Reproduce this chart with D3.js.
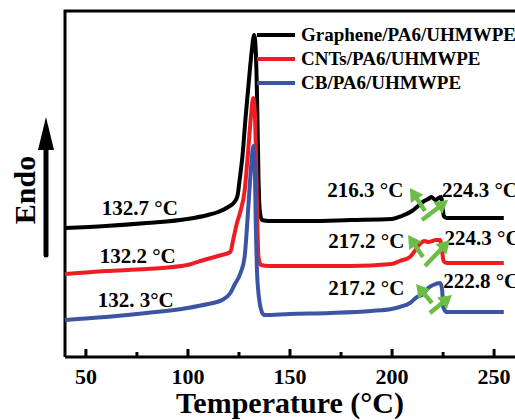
<!DOCTYPE html>
<html>
<head>
<meta charset="utf-8">
<script src="https://cdn.jsdelivr.net/npm/d3@7"></script>
<style>
  body { margin: 0; background: #fff; }
  svg text { font-family: "Liberation Serif", "Times New Roman", serif; font-weight: bold; fill: #000; }
</style>
</head>
<body>
<svg id="chart" width="515" height="420"></svg>
<script>

// Series: [temperature (°C), offset heat flow (a.u.)].
var graphene = [[40,129],[60,131],[80,134],[100,138],[110,142],[115,145],[120,150],[123,155],[124.5,161],
  [125.5,176],[127,202],[128.5,240],[130,274],[131.5,306],[132.7,322],[133.5,305],[134.2,250],[134.8,180],
  [135.5,145],[136.5,137],[140,136],[160,136],[180,137],[200,138],[205,141],[210,146],[213,151],[216,156],
  [218,158],[219.5,160],[221.5,157],[223,159],[224.3,160],[225,150],[225.6,141],[227,139],[240,139],[255,139]];

var cnts = [[40,83],[60,86],[80,88],[100,92],[108,97],[115,101],[121,105],[122.5,118],[124,132],[126,146],
  [128,166],[129.5,200],[131,238],[132.2,259],[133,245],[133.6,200],[134.2,140],[134.8,100],
  [136,92],[140,91],[160,91],[180,91],[200,93],[204,96],[209,100],[211,105],[213.5,112],[216,116],[218,115],
  [220,116],[221.5,117],[223.8,117],[224.8,105],[225.5,96],[227,94],[240,94],[255,94]];

var cb = [[40,37],[60,40],[80,44],[100,49],[110,53],[117,57],[121,64],[123,72],[126,84],[128,100],[129.5,140],
  [131,185],[132.3,211],[133,190],[133.5,130],[134,90],[135,60],[136,48],[137.5,42],[150,43],[170,44],
  [190,46],[200,48],[204,50],[209,54],[212.5,60],[215,62],[218,69],[220.4,72],[223.8,74],[224.8,67],
  [225.3,50],[227,45],[240,45],[255,45]];

var seriesNames = ['Graphene/PA6/UHMWPE', 'CNTs/PA6/UHMWPE', 'CB/PA6/UHMWPE'];
var seriesColors = ['#000000', '#ee1d23', '#3b54a5'];

// Tick values.
var majorTicks = [50, 100, 150, 200, 250];
var minorTicks = [75, 125, 175, 225];

// Peak labels: [temperature, value, text].
var leftLabels = [[58, 142, '132.7 °C'], [57, 94, '132.2 °C'], [56, 50, '132. 3°C']];
var rightLabels = [
  [168.5, 160, '216.3 °C'], [224.7, 160, '224.3 °C'],
  [169, 109, '217.2 °C'], [226, 112, '224.3 °C'],
  [169, 62, '217.2 °C'], [225.3, 69, '222.8 °C']
];

// Green arrows: [fromTemp, fromVal, toTemp, toVal].
var arrows = [
  [216.4, 146, 209.0, 169], [214.9, 137, 227.7, 157],
  [215.4, 100, 208.1, 122], [216.4, 91, 228.6, 117],
  [219.8, 54, 212.0, 73], [218.8, 44, 229.6, 62]
];

var svg = d3.select('#chart');

// Plot box.
var box = { left: 65, right: 514, top: 11, bottom: 357 };

var x = d3.scaleLinear().domain([40, 260]).range([box.left, box.right]);
var y = d3.scaleLinear().domain([0, box.bottom - box.top]).range([box.bottom, box.top]);

// Frame lines.
svg.append('path')
  .attr('d', 'M515,' + box.top + 'H' + box.left + 'V' + box.bottom)
  .attr('fill', 'none')
  .attr('stroke', '#000')
  .attr('stroke-width', 3);

// Bottom axis, ticks pointing inward.
var xAxis = svg.append('g')
  .attr('transform', 'translate(0,' + box.bottom + ')')
  .call(d3.axisBottom(x).tickValues(majorTicks).tickSize(-8).tickSizeOuter(0).tickPadding(11));

xAxis.select('.domain').attr('stroke-width', 3).attr('d', 'M' + box.left + ',0H515');
xAxis.selectAll('.tick line').attr('stroke-width', 3);
xAxis.selectAll('.tick text')
  .attr('font-size', 22)
  .attr('font-family', '"Liberation Serif", "Times New Roman", serif')
  .attr('font-weight', 'bold');

var xMinor = svg.append('g')
  .attr('transform', 'translate(0,' + box.bottom + ')')
  .call(d3.axisBottom(x).tickValues(minorTicks).tickSize(-5).tickFormat(''));

xMinor.select('.domain').remove();
xMinor.selectAll('.tick line').attr('stroke-width', 3);

// Curves.
var line = d3.line()
  .x(function(d) { return x(d[0]); })
  .y(function(d) { return y(d[1]); })
  .curve(d3.curveMonotoneX);

[graphene, cnts, cb].forEach(function(data, i) {
  svg.append('path')
    .datum(data)
    .attr('d', line)
    .attr('fill', 'none')
    .attr('stroke', seriesColors[i])
    .attr('stroke-width', 4)
    .attr('stroke-linejoin', 'round');
});

// Legend.
var legend = svg.append('g').attr('transform', 'translate(257,35)');
seriesNames.forEach(function(name, i) {
  var row = legend.append('g').attr('transform', 'translate(0,' + (i * 24) + ')');
  row.append('line')
    .attr('x1', 0).attr('x2', 38)
    .attr('stroke', seriesColors[i])
    .attr('stroke-width', 4);
  row.append('text')
    .attr('x', 44).attr('y', 6)
    .attr('font-size', 19)
    .text(name);
});

// Peak temperature labels.
svg.selectAll('.peak-label')
  .data(leftLabels.concat(rightLabels))
  .enter().append('text')
  .attr('class', 'peak-label')
  .attr('x', function(d) { return x(d[0]); })
  .attr('y', function(d) { return y(d[1]); })
  .attr('font-size', 21)
  .text(function(d) { return d[2]; });

// Green arrows.
function arrowPath(d) {
  var x0 = x(d[0]), y0 = y(d[1]), x1 = x(d[2]), y1 = y(d[3]);
  var dx = x1 - x0, dy = y1 - y0;
  var len = Math.sqrt(dx * dx + dy * dy);
  var ux = dx / len, uy = dy / len;
  var head = 13, half = 7.5, shaft = 2.2;
  var bx = x1 - ux * head, by = y1 - uy * head;
  var px = -uy, py = ux;
  return 'M' + (x0 + px * shaft) + ',' + (y0 + py * shaft) +
    'L' + (bx + px * shaft) + ',' + (by + py * shaft) +
    'L' + (bx + px * half) + ',' + (by + py * half) +
    'L' + x1 + ',' + y1 +
    'L' + (bx - px * half) + ',' + (by - py * half) +
    'L' + (bx - px * shaft) + ',' + (by - py * shaft) +
    'L' + (x0 - px * shaft) + ',' + (y0 - py * shaft) + 'Z';
}

svg.selectAll('.arrow')
  .data(arrows)
  .enter().append('path')
  .attr('class', 'arrow')
  .attr('d', arrowPath)
  .attr('fill', '#6cbd45');

// Axis title.
svg.append('text')
  .attr('x', 290).attr('y', 413)
  .attr('text-anchor', 'middle')
  .attr('font-size', 30)
  .text('Temperature (°C)');

// Endo arrow and label.
svg.append('line')
  .attr('x1', 46).attr('x2', 46)
  .attr('y1', 255).attr('y2', 145)
  .attr('stroke', '#000')
  .attr('stroke-width', 5)
  .attr('stroke-linecap', 'round');

svg.append('path')
  .attr('d', 'M46,117L54,150L38,150Z')
  .attr('fill', '#000');

svg.append('text')
  .attr('transform', 'translate(35,190) rotate(-90)')
  .attr('text-anchor', 'middle')
  .attr('font-size', 30)
  .text('Endo');

</script>
</body>
</html>
